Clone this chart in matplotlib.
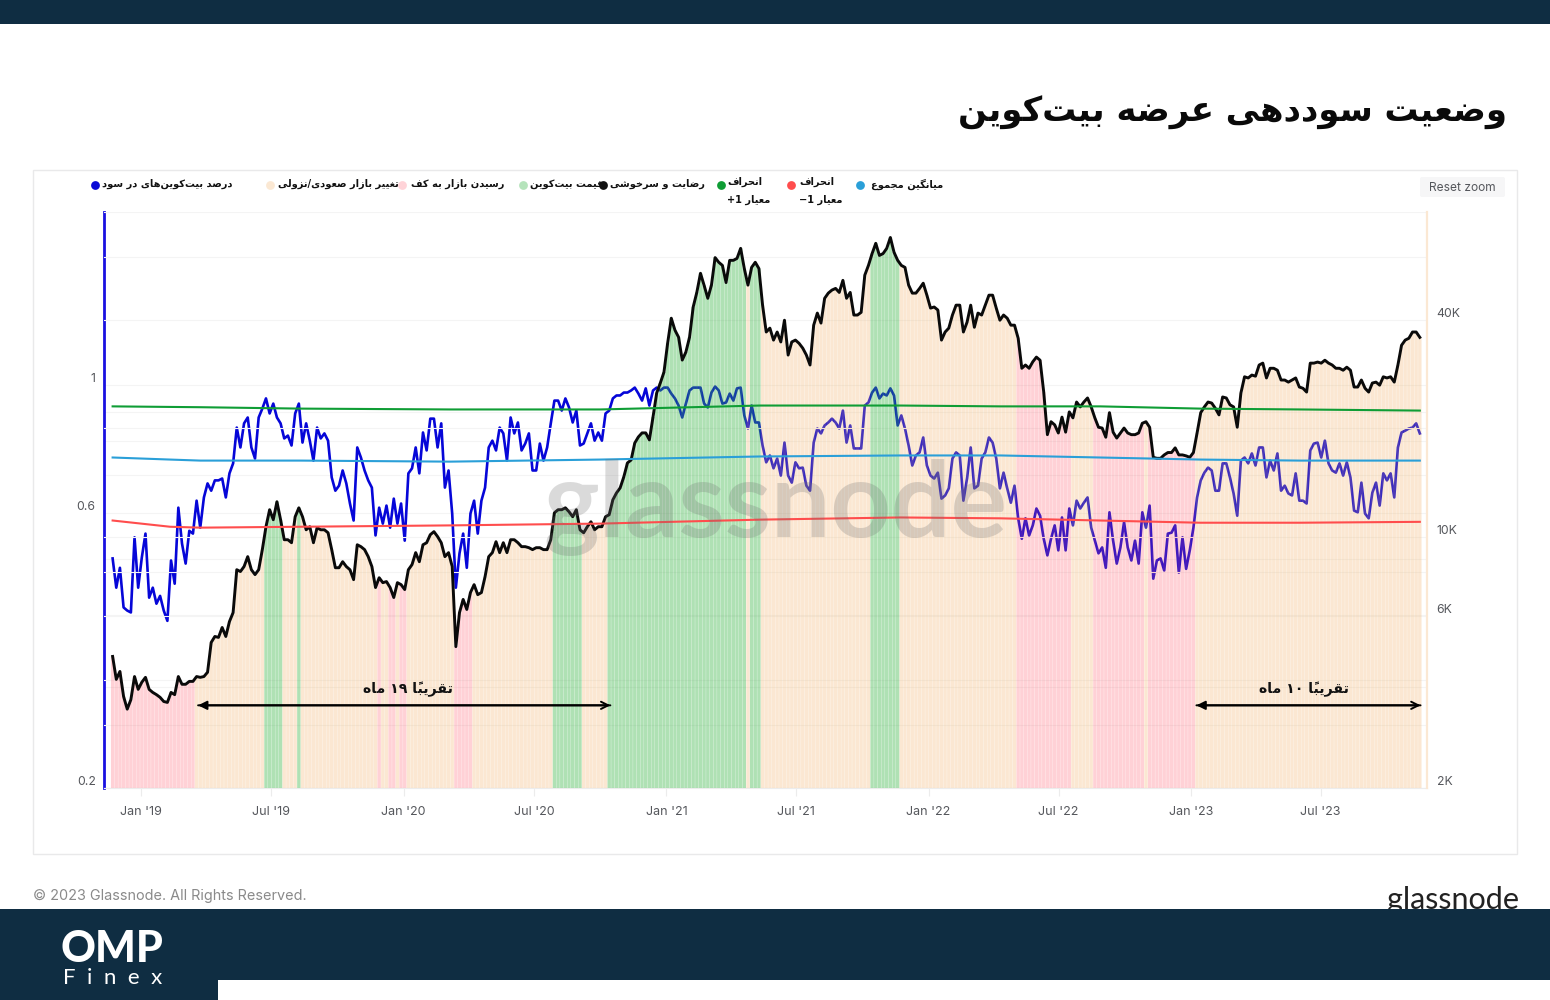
import numpy as np
import pandas as pd
import matplotlib
matplotlib.use('Agg')
import matplotlib.pyplot as plt
from matplotlib.patches import Rectangle, FancyBboxPatch
from matplotlib.ticker import NullFormatter

plt.rcParams['font.family'] = ['Inter', 'DejaVu Sans']

W, H = 1550, 1000
NAVY = '#0f2d42'

# values were read against the tick labels, which sit about 6px above their gridlines
PRICE_SHIFT = 1.039
PROFIT_SHIFT = 1.024

start_date = '2018-11-22'
end_date = '2023-11-16'

btc_price = [
    4470, 3860, 4060, 3460, 3190, 3390, 3930, 3620, 3790, 3910, 3620, 3550, 3500, 3440, 3350, 3330,
    3550, 3500, 3930, 3740, 3740, 3810, 3810, 3930, 3910, 3930, 4040, 4890, 5080, 5050, 5380, 5080,
    5590, 5920, 7790, 7700, 7950, 8470, 7790, 7550, 7790, 8860, 10260, 11440, 10730, 12040, 10730, 9440,
    9440, 9260, 10940, 11580, 10940, 10060, 10260, 9260, 10190, 10060, 10060, 9870, 8860, 7890, 7890, 8200,
    7950, 7790, 7310, 9140, 9030, 8860, 8470, 7950, 6950, 7400, 7170, 7220, 6950, 6520, 7170, 7080,
    6860, 7790, 8050, 8690, 8200, 9140, 9260, 9750, 9940, 9630, 9260, 8470, 8690,
    7950, 4760, 5920, 6440, 6040, 6730, 7080, 6640, 6730, 7450, 8470, 8690, 9320, 8690, 9260, 8690,
    9440, 9440, 9260, 9030, 9030, 8970, 8860, 8970, 8970, 8860, 8860, 9440, 11220, 11440, 11440, 11580,
    11290, 10940, 11440, 10060, 9870, 10260, 10590, 10060, 10260, 10260, 10940, 11080, 12190, 12740, 13160, 14120,
    15440, 15730, 17540, 18240, 18710, 18710, 17890, 20720, 24150, 25760, 27620, 33230, 39000, 36130, 34530, 29830,
    31400, 34530, 41900, 46050, 52000, 48100, 44300, 48200, 57500, 55800, 54700, 49000, 56500, 56500, 57200, 61000,
    53600, 48200, 54000, 55800, 53600, 42400, 35700, 36600, 33900, 35700, 33500, 38500, 30800, 33500, 33900, 33200,
    32200, 30800, 28900, 37300, 40300, 37800, 44300, 45800, 46700, 47200, 46000, 49700, 44300, 46000, 39800, 39800,
    40500, 51400, 54700, 59000, 63000, 58300, 59000, 61000, 65400, 59500, 56500, 54700, 54000, 48200, 45800, 45800,
    47200, 48800, 45200, 41600, 41900, 41100, 33900, 35700, 36600, 39800, 42400, 42400, 35700, 38000, 42400, 36800,
    40300, 39800, 42400, 45200, 45200, 41600, 38500, 39800, 39000, 37300, 37300, 34300, 28300, 28900, 28300, 29500,
    30400, 29800, 24300, 18500, 20100, 19700, 18700, 20700, 18800, 21400, 20600, 22800, 22100, 22800, 23400,
    22100, 20600, 19400, 19300, 18200, 21300, 18800, 18100, 18700, 19300, 18700, 18500, 18500, 18700, 19900, 20100,
    19400, 16000, 15900, 15900, 16250, 16500, 16500, 17000, 16250, 16250, 16150, 16000, 16500, 18700, 21300, 22100,
    22800, 22650, 21900, 21000, 23550, 23400, 22400, 22100, 19400, 24150, 26800, 26600, 27100, 26900, 28900, 29250,
    26600, 28300, 28300, 27950, 26250, 26250, 25900, 26250, 26600, 25100, 24900, 24300, 29250, 29250, 29450, 29250,
    29800, 29250, 28900, 28300, 28300, 27950, 28500, 27950, 25100, 25100, 26250, 24900, 24300, 25750, 25900, 25400,
    26800, 26600, 26800, 25900, 28900, 32800, 33900, 34300, 35700, 35700, 34500,
]

supply_in_profit = [
    .489, .435, .471, .402, .397, .394, .532, .435, .491, .540, .418, .435, .408, .421, .397, .381,
    .485, .442, .599, .519, .479, .546, .540, .616, .553, .624, .660, .641, .668, .668, .673, .624,
    .687, .715, .825, .762, .839, .859, .762, .729, .859, .890, .927, .873, .908, .859, .839, .790,
    .799, .768, .873, .908, .777, .839, .783, .723, .825, .790, .806, .783, .676, .641, .654, .695,
    .660, .609, .569, .762, .732, .695, .668, .649, .536, .599, .562, .604, .553, .621, .562, .609,
    .525, .687, .701, .762, .687, .809, .753, .855, .855, .762, .839, .649, .695,
    .585, .435, .499, .540, .471, .585, .616, .540, .616, .649, .762, .783, .753, .825, .806, .723,
    .859, .806, .842, .753, .774, .806, .695, .695, .774, .723, .762, .839, .919, .919, .883, .927,
    .894, .842, .883, .768, .774, .806, .839, .783, .809, .783, .873, .883, .927, .938, .938, .949,
    .949, .957, .968, .945, .919, .965, .901, .957, .968, .957, .968, .968, .945, .927, .901, .859,
    .908, .957, .968, .968, .968, .908, .894, .949, .972, .957, .908, .912, .945, .919, .965, .968,
    .866, .822, .901, .842, .842, .768, .718, .738, .701, .729, .681, .777, .681, .662, .718, .701,
    .703, .654, .641, .777, .822, .806, .832, .842, .855, .842, .822, .883, .777, .832, .759, .759,
    .759, .901, .912, .949, .968, .927, .945, .938, .965, .938, .832, .866, .822, .768, .709, .738,
    .747, .793, .709, .681, .673, .689, .621, .629, .647, .729, .747, .738, .616, .673, .762, .647,
    .654, .729, .747, .793, .777, .729, .647, .689, .647, .611, .654, .574, .529, .574, .536, .558,
    .597, .580, .529, .495, .529, .558, .505, .576, .505, .597, .558, .616, .597, .611, .624,
    .553, .525, .499, .511, .471, .588, .525, .479, .511, .565, .511, .485, .525, .479, .588, .553,
    .604, .451, .485, .489, .466, .540, .542, .558, .462, .532, .469, .505, .553, .624, .668, .689,
    .703, .695, .641, .641, .715, .715, .676, .634, .580, .723, .732, .715, .744, .709, .762, .762,
    .676, .723, .695, .744, .641, .654, .634, .629, .687, .616, .616, .609, .753, .774, .777, .732,
    .783, .715, .695, .689, .715, .681, .718, .676, .592, .588, .662, .585, .574, .636, .662, .604,
    .687, .668, .687, .624, .762, .809, .815, .822, .825, .839, .806,
]

band_dates = ['2018-11-22', '2019-02-10', '2019-03-24', '2019-08-11', '2020-03-06', '2020-10-01', '2021-05-11',
              '2021-11-23', '2022-04-11', '2022-08-28', '2023-01-14', '2023-06-02', '2023-11-16']
plus_1sd = [.898, .896, .895, .890, .887, .887, .901, .901, .898, .898, .890, .887, .883]
mean_all = [.732, .726, .723, .723, .720, .726, .735, .738, .738, .732, .726, .723, .723]
minus_1sd = [.569, .555, .553, .555, .558, .562, .571, .576, .574, .569, .564, .564, .566]

euphoria_spans = [('2019-06-22', '2019-07-03'), ('2019-07-09', '2019-07-12'), ('2019-08-06', '2019-08-10'),
                  ('2020-07-27', '2020-08-23'), ('2020-08-30', '2020-09-02'), ('2020-10-12', '2020-10-15'),
                  ('2020-10-20', '2021-01-22'), ('2021-01-30', '2021-02-25'), ('2021-03-01', '2021-04-18'),
                  ('2021-04-30', '2021-05-09'), ('2021-10-12', '2021-11-17')]
bottom_spans = [('2018-11-22', '2019-03-16'), ('2019-11-26', '2019-11-29'), ('2019-12-12', '2019-12-17'),
                ('2019-12-31', '2020-01-04'), ('2020-03-13', '2020-04-03'), ('2022-05-06', '2022-07-14'),
                ('2022-08-18', '2022-09-09'), ('2022-09-12', '2022-10-27'), ('2022-11-07', '2023-01-07')]

x_tick_dates = ['2019-01-01', '2019-07-01', '2020-01-01', '2020-07-01', '2021-01-01', '2021-07-01',
                '2022-01-01', '2022-07-01', '2023-01-01', '2023-07-01']
x_tick_labels = ["Jan '19", "Jul '19", "Jan '20", "Jul '20", "Jan '21", "Jul '21",
                 "Jan '22", "Jul '22", "Jan '23", "Jul '23"]
left_ticks = [1, 0.6, 0.2]
left_labels = ['1', '0.6', '0.2']
left_minor = [.3, .4, .5, .7, .8, .9]
right_ticks = [40000, 10000, 6000, 2000]
right_labels = ['40K', '10K', '6K', '2K']
right_minor = [3000, 4000, 8000, 20000, 60000, 80000]

title_text = 'وضعیت سوددهی عرضه بیت‌کوین'
span_19_text = 'تقریباً ۱۹ ماه'
span_10_text = 'تقریباً ۱۰ ماه'
legend_labels = ['درصد بیت‌کوین‌های در سود', 'تغییر بازار صعودی/نزولی', 'رسیدن بازار به کف', 'قیمت بیت‌کوین',
                 'رضایت و سرخوشی', 'انحراف\nمعیار 1+', 'انحراف\nمعیار 1−', 'میانگین مجموع']
legend_colors = ['#0a0ad6', '#fbe8d3', '#ffd3d8', '#b5e3bb', '#111111', '#0f9d35', '#ff4d4d', '#2a9fd8']
legend_dot_x = [95, 270, 402, 523, 603, 721, 791, 860]
legend_text_x = [102, 278, 411, 530, 610, 727, 799, 871]

# matplotlib does no arabic shaping, so pick the presentation forms here
DUAL = {'ب': 0xFE8F, 'پ': 0xFB56, 'ت': 0xFE95, 'ث': 0xFE99, 'ج': 0xFE9D, 'چ': 0xFB7A, 'ح': 0xFEA1, 'خ': 0xFEA5,
        'س': 0xFEB1, 'ش': 0xFEB5, 'ص': 0xFEB9, 'ض': 0xFEBD, 'ط': 0xFEC1, 'ظ': 0xFEC5, 'ع': 0xFEC9, 'غ': 0xFECD,
        'ف': 0xFED1, 'ق': 0xFED5, 'ک': 0xFB8E, 'گ': 0xFB92, 'ل': 0xFEDD, 'م': 0xFEE1, 'ن': 0xFEE5, 'ه': 0xFEE9,
        'ی': 0xFBFC}
RIGHT = {'ا': 0xFE8D, 'آ': 0xFE81, 'د': 0xFEA9, 'ذ': 0xFEAB, 'ر': 0xFEAD, 'ز': 0xFEAF, 'ژ': 0xFB8A, 'و': 0xFEED}
TANWIN = '\u064b'
DIGITS = '0123456789۰۱۲۳۴۵۶۷۸۹'


def fa_line(text):
    letters = []
    for c in text:
        if c == TANWIN:
            letters[-1] += c
        else:
            letters.append(c)
    clusters = []
    for i, item in enumerate(letters):
        c = item[0]
        prev = letters[i - 1][0] if i else ''
        nxt = letters[i + 1][0] if i + 1 < len(letters) else ''
        joins_prev = prev in DUAL
        joins_next = c in DUAL and (nxt in DUAL or nxt in RIGHT)
        if c in DUAL:
            clusters.append(chr(DUAL[c] + {(0, 0): 0, (1, 0): 1, (0, 1): 2, (1, 1): 3}[(joins_prev, joins_next)]))
        elif c in RIGHT:
            clusters.append(chr(RIGHT[c] + (1 if joins_prev else 0)) + item[1:])
        elif c == '\u200c':
            continue
        elif c in DIGITS and clusters and clusters[-1][-1] in DIGITS:
            clusters[-1] += c
        else:
            clusters.append(c)
    return ''.join(reversed(clusters))


def fa(text):
    return '\n'.join(fa_line(line) for line in text.split('\n'))


def px_text(x, y, s, **kw):
    kw.setdefault('va', 'center')
    return fig.text(x / W, 1 - y / H, s, **kw)


fig = plt.figure(figsize=(W / 100, H / 100), dpi=100, facecolor='white')

# page furniture in pixel coords
bg = fig.add_axes([0, 0, 1, 1], zorder=-1)
bg.set_xlim(0, W)
bg.set_ylim(H, 0)
bg.axis('off')
bg.add_patch(Rectangle((33, 170), 1484, 684, fc='white', ec='#e9e9ea', lw=1))
bg.add_patch(FancyBboxPatch((1422, 179), 81, 16, boxstyle='round,pad=2', fc='#f6f6f7', ec='none'))
bg.text(1453, 900, 'glassnode', fontsize=22, family='Lato', ha='center', va='center', color='#222222', zorder=2)
bg.add_patch(Rectangle((0, 0), W, 24, fc=NAVY, ec='none', zorder=3))
bg.add_patch(Rectangle((0, 909), W, 91, fc=NAVY, ec='none', zorder=3))
bg.add_patch(Rectangle((218, 980), W - 218, 20, fc='white', ec='none', zorder=4))

left_px, right_px, top_px, bottom_px = 104, 1427, 212, 788
rect = [left_px / W, 1 - bottom_px / H, (right_px - left_px) / W, (bottom_px - top_px) / H]
ax = fig.add_axes(rect)
ax.patch.set_visible(False)
ax2 = ax.twinx()
ax3 = ax.twinx()

dates_profit = pd.date_range(start_date, end_date, periods=len(supply_in_profit))
dates_price = pd.date_range(start_date, end_date, periods=len(btc_price))
price = np.array(btc_price) * PRICE_SHIFT
profit = np.array(supply_in_profit) * PROFIT_SHIFT

step = (dates_price[1] - dates_price[0]) / pd.Timedelta(days=1)


def in_spans(day, spans):
    half = pd.Timedelta(days=step / 2)
    return any(day + half > pd.Timestamp(a) and day - half < pd.Timestamp(b) for a, b in spans)


colors = []
for day in dates_price:
    if in_spans(day, euphoria_spans):
        colors.append((55 / 255, 180 / 255, 68 / 255, 0.4))
    elif in_spans(day, bottom_spans):
        colors.append((1, 88 / 255, 105 / 255, 0.27))
    else:
        colors.append((242 / 255, 178 / 255, 108 / 255, 0.3))

ax.plot(dates_profit, profit, color='#0606d8', lw=1.9, solid_joinstyle='round')

bars = ax2.bar(dates_price, price - 2000, bottom=2000, width=step * 0.93, color=colors, linewidth=0)
for b in bars:
    b.set_snap(False)
ax2.plot(dates_price, price, color='#0a0a0a', lw=2.1, solid_joinstyle='round')

band = pd.to_datetime(band_dates)
ax3.plot(band, np.array(plus_1sd) * PROFIT_SHIFT, color='#0f9d35', lw=1.5)
ax3.plot(band, np.array(mean_all) * PROFIT_SHIFT, color='#2a9fd8', lw=1.5)
ax3.plot(band, np.array(minus_1sd) * PROFIT_SHIFT, color='#ff4d4d', lw=1.5)

ax.set_xlim(pd.Timestamp('2018-11-10'), pd.Timestamp('2023-11-26'))
ax.set_yscale('log')
ax.set_ylim(0.2, 2)
ax2.set_yscale('log')
ax2.set_ylim(2000, 80000)
ax3.set_yscale('log')
ax3.set_ylim(0.2, 2)
ax3.axis('off')

ax.set_xticks(pd.to_datetime(x_tick_dates), x_tick_labels)
ax.tick_params(axis='x', length=6, color='#ececec', labelsize=9, labelcolor='#55575c', pad=7)
ax.set_yticks(left_ticks, left_labels)
ax.set_yticks(left_minor, minor=True)
ax.yaxis.set_minor_formatter(NullFormatter())
ax.tick_params(axis='y', which='both', length=0, labelsize=8.8, labelcolor='#55575c', pad=6)
ax2.set_yticks(right_ticks, right_labels)
ax2.set_yticks(right_minor, minor=True)
ax2.yaxis.set_minor_formatter(NullFormatter())
ax2.tick_params(axis='y', which='both', length=0, labelsize=8.8, labelcolor='#55575c', pad=7)
for tick in ax.get_yticklabels() + ax2.get_yticklabels():
    tick.set_va('bottom')

for a in (ax, ax2):
    a.set_axisbelow(True)
    a.grid(axis='y', which='both', color='#f4f4f4', lw=0.8)
    for side in a.spines:
        a.spines[side].set_visible(False)
ax.spines['left'].set_visible(True)
ax.spines['left'].set_color('#1a10e0')
ax.spines['left'].set_linewidth(2)
ax2.spines['right'].set_visible(True)
ax2.spines['right'].set_color('#fbe8d3')
ax2.spines['right'].set_linewidth(1.6)
ax.spines['bottom'].set_visible(True)
ax.spines['bottom'].set_color('#ececec')

# duration arrows, on the price scale
arrow_y = 3396
for a_start, a_end in [('2019-03-21', '2020-10-15'), ('2023-01-09', '2023-11-17')]:
    ax2.annotate('', xy=(pd.Timestamp(a_start), arrow_y), xytext=(pd.Timestamp(a_end), arrow_y),
                 arrowprops=dict(arrowstyle='-|>', color='black', lw=1.4, shrinkA=0, shrinkB=0, mutation_scale=13))
    ax2.annotate('', xy=(pd.Timestamp(a_end), arrow_y), xytext=(pd.Timestamp(a_start), arrow_y),
                 arrowprops=dict(arrowstyle='->', color='black', lw=1.4, shrinkA=0, shrinkB=0, mutation_scale=13))

fa_font = dict(family='DejaVu Sans', weight='bold')
px_text(1507, 113, fa(title_text), ha='right', fontsize=24.4, color='#0a0a0a', **fa_font)
px_text(408, 689, fa(span_19_text), ha='center', fontsize=10.2, color='#111111', **fa_font)
px_text(1304, 689, fa(span_10_text), ha='center', fontsize=10.2, color='#111111', **fa_font)

for label, color, dot_x, text_x in zip(legend_labels, legend_colors, legend_dot_x, legend_text_x):
    bg.scatter([dot_x], [185], s=40, color=color, linewidths=0)
    two_lines = '\n' in label
    px_text(text_x, 191 if two_lines else 184, fa(label), ha='left', fontsize=7.1, color='#111111',
            linespacing=1.9, **fa_font)

px_text(1462, 188, 'Reset zoom', ha='center', fontsize=8.6, color='#55575c')
px_text(33, 896, '© 2023 Glassnode. All Rights Reserved.', ha='left', fontsize=10.4, color='#8a8a8a')
px_text(775, 507, 'glassnode', ha='center', fontsize=76, color='#6f6f6f', alpha=0.25, family='Lato', weight='bold')
px_text(112, 949, 'OMP', ha='center', fontsize=31, color='white', family='Lato', weight='black')
px_text(113, 978, 'F  i  n  e  x', ha='center', fontsize=16, color='white', family='Lato')

fig.savefig('out.png', dpi=100)
